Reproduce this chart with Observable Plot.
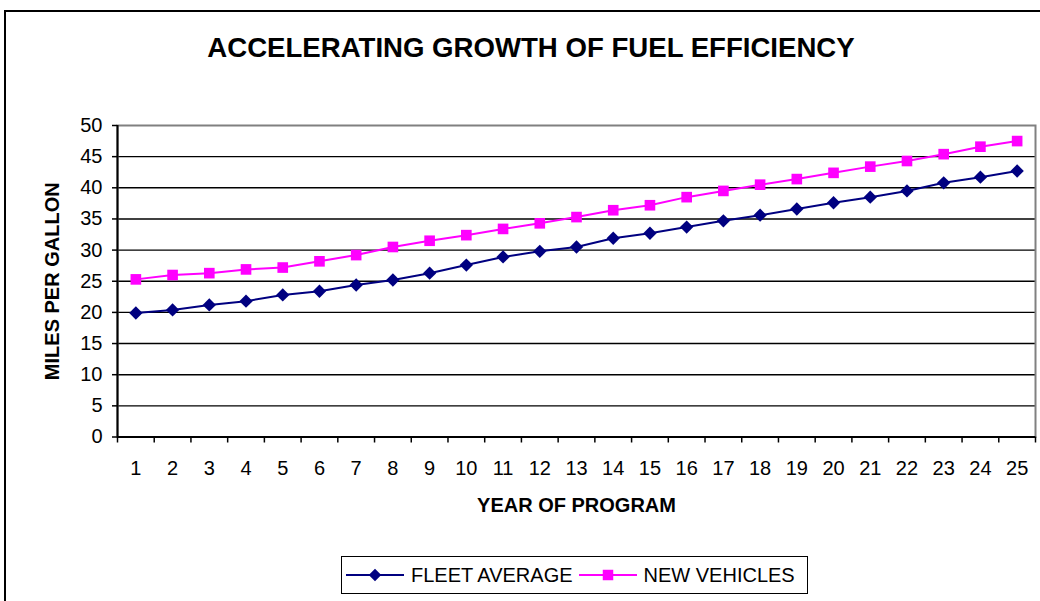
<!DOCTYPE html>
<html>
<head>
<meta charset="utf-8">
<script src="https://cdn.jsdelivr.net/npm/d3@7"></script>
<script src="https://cdn.jsdelivr.net/npm/@observablehq/plot@0.6"></script>
<style>
  html, body { margin: 0; padding: 0; background: #fff; overflow: hidden; }
  body { width: 1040px; height: 601px; position: relative; font-family: "Liberation Sans", Arial, sans-serif; }
  #frame { position: absolute; left: 4px; top: 10px; width: 1100px; height: 700px; border: 2px solid #000; box-sizing: border-box; }
  #title { position: absolute; left: 0; top: 0; width: 1062px; height: 95px; line-height: 95px; text-align: center; font-weight: bold; font-size: 27.6px; color: #000; }
  #chart { position: absolute; left: 0; top: 95px; }
  #legend { position: absolute; left: 341px; top: 556px; width: 467px; height: 38px; border: 1.5px solid #000; box-sizing: border-box; display: flex; align-items: center; font-size: 20px; color: #000; background: #fff; }
  #legend .item { display: flex; align-items: center; }
  #legend svg { display: block; }
</style>
</head>
<body>
<div id="frame"></div>
<div id="title">ACCELERATING GROWTH OF FUEL EFFICIENCY</div>
<div id="chart"></div>
<div id="legend"></div>
<script>
const years = [1,2,3,4,5,6,7,8,9,10,11,12,13,14,15,16,17,18,19,20,21,22,23,24,25];
const fleetAverage = [19.9,20.4,21.2,21.8,22.8,23.4,24.4,25.2,26.3,27.6,28.9,29.8,30.5,31.9,32.7,33.7,34.7,35.6,36.6,37.6,38.5,39.5,40.8,41.7,42.7];
const newVehicles = [25.3,26.0,26.3,26.9,27.2,28.2,29.2,30.5,31.5,32.4,33.4,34.3,35.3,36.4,37.2,38.5,39.5,40.5,41.4,42.4,43.4,44.3,45.4,46.6,47.5];
const yTicks = [0,5,10,15,20,25,30,35,40,45,50];
const seriesNames = ["FLEET AVERAGE", "NEW VEHICLES"];
const seriesColors = ["#000080", "#FF00FF"];
const seriesSymbols = ["diamond2", "square"];
const title = "ACCELERATING GROWTH OF FUEL EFFICIENCY";
const xTitle = "YEAR OF PROGRAM";
const yTitle = "MILES PER GALLON";

const data = [];
years.forEach((y, i) => {
  data.push({year: y, mpg: fleetAverage[i], series: seriesNames[0]});
  data.push({year: y, mpg: newVehicles[i], series: seriesNames[1]});
});
const xMin = years[0] - 0.5;
const xMax = years[years.length - 1] + 0.5;
const boundaries = years.map(d => d - 0.5).concat([xMax]);
const yMax = yTicks[yTicks.length - 1];
const inner = yTicks.filter(d => d > 0 && d < yMax);

const plot = Plot.plot({
  width: 1040,
  height: 445,
  marginLeft: 117,
  marginRight: 5,
  marginTop: 30,
  marginBottom: 103.5,
  style: {background: "transparent", fontFamily: "'Liberation Sans', Arial, sans-serif", fontSize: "20px", color: "#000"},
  x: {type: "linear", domain: [xMin, xMax], axis: null},
  y: {type: "linear", domain: [0, yMax], axis: null},
  color: {domain: seriesNames, range: seriesColors},
  symbol: {domain: seriesNames, range: seriesSymbols},
  marks: [
    Plot.ruleY(inner, {stroke: "#000", strokeWidth: 1.4}),
    Plot.frame({stroke: "#808080", strokeWidth: 2}),
    Plot.ruleY([0], {stroke: "#000", strokeWidth: 2}),
    Plot.ruleX([xMin], {stroke: "#000", strokeWidth: 2}),
    Plot.axisY(yTicks, {tickSize: 5, tickPadding: 10, fontSize: 20, strokeWidth: 1.5, label: null}),
    Plot.axisX(boundaries, {tickSize: 6, tickFormat: () => "", strokeWidth: 1.5, label: null}),
    Plot.axisX(years, {tickSize: 0, tickPadding: 24, fontSize: 20, label: null}),
    Plot.text([xTitle], {frameAnchor: "bottom", dy: 74.5, fontSize: 20, fontWeight: "bold", fill: "#000"}),
    Plot.text([yTitle], {frameAnchor: "left", textAnchor: "middle", dx: -65, rotate: -90, fontSize: 20, fontWeight: "bold", fill: "#000"}),
    Plot.line(data, {x: "year", y: "mpg", stroke: "series", z: "series", strokeWidth: 2}),
    Plot.dot(data, {x: "year", y: "mpg", fill: "series", symbol: "series", r: 6, stroke: null})
  ]
});
document.getElementById("chart").appendChild(plot);

// Legend
const legend = document.getElementById("legend");
const pads = [4, 6];
seriesNames.forEach((name, i) => {
  const item = document.createElement("div");
  item.className = "item";
  item.style.marginLeft = pads[i] + "px";
  const sw = d3.create("svg").attr("width", 58).attr("height", 20);
  sw.append("line").attr("x1", 0).attr("x2", 58).attr("y1", 10).attr("y2", 10)
    .attr("stroke", seriesColors[i]).attr("stroke-width", 2);
  const sym = i === 0 ? d3.symbolDiamond2 : d3.symbolSquare;
  sw.append("path").attr("d", d3.symbol(sym, i === 0 ? 100 : 110)()).attr("transform", "translate(29,10)")
    .attr("fill", seriesColors[i]);
  item.appendChild(sw.node());
  const t = document.createElement("span");
  t.textContent = name;
  t.style.marginLeft = "7px";
  item.appendChild(t);
  legend.appendChild(item);
});
</script>
</body>
</html>
